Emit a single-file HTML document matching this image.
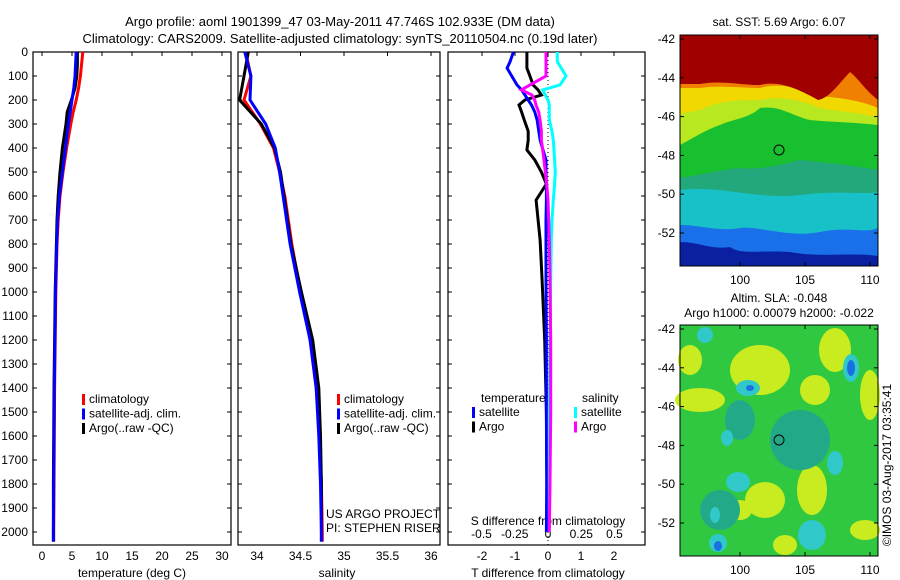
<!DOCTYPE html>
<html><head><meta charset="utf-8"><style>
body{margin:0;background:#fff;}
svg{display:block;font-family:"Liberation Sans",sans-serif;}
</style></head><body>
<svg id="fig" width="900" height="580" viewBox="0 0 900 580">
<text x="340" y="26" font-size="13" text-anchor="middle">Argo profile: aoml 1901399_47 03-May-2011 47.746S 102.933E (DM data)</text>
<text x="340" y="43" font-size="13" text-anchor="middle">Climatology: CARS2009. Satellite-adjusted climatology: synTS_20110504.nc (0.19d later)</text>
<g id="g1"></g>
<g id="g2"></g>
<g id="g3"></g>
<g id="m1"></g>
<g id="m2"></g>
<text transform="translate(891,465) rotate(-90)" font-size="12" text-anchor="middle">©IMOS 03-Aug-2017 03:35:41</text>
</svg>
<script>
// depth ticks
const depthTicks=[0,100,200,300,400,500,600,700,800,900,1000,1100,1200,1300,1400,1500,1600,1700,1800,1900,2000];
// temperature profiles
const tDepth=[0,50,100,150,200,250,300,400,500,600,700,800,900,1000,1200,1400,1600,1800,2000,2040];
const tClim=[6.8,6.6,6.4,6.1,5.7,5.2,4.8,4.1,3.5,3.0,2.7,2.5,2.4,2.3,2.2,2.1,2.05,2.0,1.95,1.95];
const tSat=[5.7,5.6,5.5,5.3,5.0,4.7,4.4,3.9,3.4,2.9,2.6,2.45,2.35,2.25,2.15,2.05,2.0,1.95,1.9,1.9];
const tArgo=[5.9,5.9,5.8,5.5,4.9,4.2,4.0,3.4,3.0,2.7,2.5,2.4,2.3,2.2,2.1,2.0,1.95,1.9,1.9,1.9];
// salinity profiles
const sDepth=[0,100,200,300,400,500,600,800,1000,1200,1400,1600,1800,2000,2040];
const sClim=[33.87,33.93,33.85,34.04,34.19,34.26,34.32,34.40,34.50,34.61,34.68,34.72,34.74,34.75,34.75];
const sSat=[33.86,33.93,33.92,34.10,34.21,34.26,34.30,34.38,34.49,34.61,34.68,34.71,34.73,34.74,34.74];
const sArgo=[33.90,33.85,33.80,34.05,34.20,34.27,34.31,34.39,34.51,34.64,34.71,34.73,34.74,34.74,34.74];
// difference profiles
const dDepth=[0,40,67,100,137,158,179,200,221,250,283,330,367,408,450,500,550,617,700,783,950,1200,1500,1800,2000];
const dTSat=[-1.05,-1.15,-1.24,-1.1,-0.94,-0.8,-0.7,-0.6,-0.5,-0.4,-0.33,-0.28,-0.24,-0.15,-0.06,-0.06,-0.05,-0.05,-0.06,-0.06,-0.06,-0.05,-0.05,-0.04,-0.05];
const dTArgo=[-0.64,-0.64,-0.64,-0.55,-0.45,-0.3,-0.2,-0.7,-0.88,-0.8,-0.72,-0.6,-0.6,-0.64,-0.4,-0.2,-0.05,-0.36,-0.3,-0.24,-0.18,-0.1,-0.05,-0.03,-0.02];
const dSSat=[0.07,0.07,0.1,0.135,0.09,-0.04,-0.02,0,0.01,0.01,0.01,0.03,0.04,0.045,0.05,0.055,0.05,0.04,0.03,0.025,0.02,0.015,0.01,0.01,0.01];
const dSArgo=[-0.015,-0.015,-0.015,-0.015,-0.135,-0.2,-0.12,-0.1,-0.09,-0.07,-0.06,-0.05,-0.05,-0.04,-0.03,-0.02,-0.01,0,0.005,0.01,0.015,0.02,0.02,0.015,0.01];
const tTicks=[0,5,10,15,20,25,30];
const sTicks=["34","34.5","35","35.5","36"];
const dtTicks=[-2,-1,0,1,2];
const dsTicks=["-0.5","-0.25","0","0.25","0.5"];
const latTicks=[-42,-44,-46,-48,-50,-52];
const lonTicks=[100,105,110];

const NS='http://www.w3.org/2000/svg';
function mk(p,tag,at,txt){const e=document.createElementNS(NS,tag);for(const k in at)e.setAttribute(k,at[k]);if(txt!==undefined)e.textContent=txt;p.appendChild(e);return e;}
const Y=d=>52+d*0.24;
const TOP=52,BOT=545;
function frame(g,x0,x1){
  const r=mk(g,'rect',{x:x0,y:TOP,width:x1-x0,height:BOT-TOP,fill:'none',stroke:'#000','stroke-width':1.2});
  
  
  depthTicks.forEach(d=>{
    const l=mk(g,'line',{x1:x0,x2:x0+4,y1:Y(d),y2:Y(d),stroke:'#000'});
    
    
    mk(g,'line',{x1:x1-4,x2:x1,y1:Y(d),y2:Y(d),stroke:'#000'});
  });
}
function line(g,xs,ys,fx,col,name){
  const pts=xs.map((v,i)=>fx(v).toFixed(1)+','+Y(ys[i]).toFixed(1)).join(' ');
  const p=mk(g,'polyline',{points:pts,fill:'none',stroke:col,'stroke-width':3});
  
  
}
function legend(g,x,y,items){
  items.forEach((it,i)=>{
    const r=mk(g,'rect',{x:x,y:y+i*14.5-9,width:3,height:11,fill:it[1]});
    
    
    const t=mk(g,'text',{x:x+7,y:y+i*14.5,'font-size':12},it[0]);
    
    
  });
}
// Panel 1
const g1=document.getElementById('g1');
const fT=v=>42+v*6;
frame(g1,33,231);
depthTicks.forEach(d=>{const t=mk(g1,'text',{x:28,y:Y(d)+4,'font-size':12,'text-anchor':'end'},String(d));
});
tTicks.forEach(v=>{mk(g1,'line',{x1:fT(v),x2:fT(v),y1:TOP,y2:TOP+4,stroke:'#000'});
const t=mk(g1,'text',{x:fT(v),y:560,'font-size':12,'text-anchor':'middle'},String(v));
});
const x1t=mk(g1,'text',{x:132,y:577,'font-size':12,'text-anchor':'middle'},'temperature (deg C)');

line(g1,tClim,tDepth,fT,'#f00','climatology-line');
line(g1,tArgo,tDepth,fT,'#000','argo-line');
line(g1,tSat,tDepth,fT,'#00f','satellite-line');
legend(g1,82,403,[['climatology','#f00'],['satellite-adj. clim.','#00f'],['Argo(..raw -QC)','#000']]);
// Panel 2
const g2=document.getElementById('g2');
const fS=v=>257+(v-34)*87;
frame(g2,238,440);
sTicks.forEach(s=>{const v=parseFloat(s);mk(g2,'line',{x1:fS(v),x2:fS(v),y1:TOP,y2:TOP+4,stroke:'#000'});
const t=mk(g2,'text',{x:fS(v),y:560,'font-size':12,'text-anchor':'middle'},s);
});
const x2t=mk(g2,'text',{x:337,y:577,'font-size':12,'text-anchor':'middle'},'salinity');

line(g2,sClim,sDepth,fS,'#f00','climatology-line');
line(g2,sArgo,sDepth,fS,'#000','argo-line');
line(g2,sSat,sDepth,fS,'#00f','satellite-line');
legend(g2,337,403,[['climatology','#f00'],['satellite-adj. clim.','#00f'],['Argo(..raw -QC)','#000']]);
const p1=mk(g2,'text',{x:326,y:518,'font-size':12},'US ARGO PROJECT');

const p2=mk(g2,'text',{x:326,y:532,'font-size':12},'PI: STEPHEN RISER');

// Panel 3
const g3=document.getElementById('g3');
const fDT=v=>548+v*33, fDS=v=>548+v*133;
frame(g3,448,645);
mk(g3,'line',{x1:548,x2:548,y1:TOP,y2:BOT,stroke:'#000','stroke-dasharray':'1,3'});
dtTicks.forEach(v=>{mk(g3,'line',{x1:fDT(v),x2:fDT(v),y1:TOP,y2:TOP+4,stroke:'#000'});
const t=mk(g3,'text',{x:fDT(v),y:560,'font-size':12,'text-anchor':'middle'},String(v));
});
dsTicks.forEach(s=>{const t=mk(g3,'text',{x:fDS(parseFloat(s)),y:538,'font-size':12,'text-anchor':'middle'},s);
});
const st=mk(g3,'text',{x:548,y:525,'font-size':12,'text-anchor':'middle'},'S difference from climatology');

const tt=mk(g3,'text',{x:548,y:577,'font-size':12,'text-anchor':'middle'},'T difference from climatology');

line(g3,dTArgo,dDepth,fDT,'#000','t-argo-diff-line');
line(g3,dTSat,dDepth,fDT,'#00f','t-satellite-diff-line');
line(g3,dSSat,dDepth,fDS,'#0ff','s-satellite-diff-line');
line(g3,dSArgo,dDepth,fDS,'#f0f','s-argo-diff-line');
const lt=mk(g3,'text',{x:481,y:402,'font-size':12},'temperature');

const ls=mk(g3,'text',{x:582,y:402,'font-size':12},'salinity');

legend(g3,472,416,[['satellite','#00f'],['Argo','#000']]);
legend(g3,574,416,[['satellite','#0ff'],['Argo','#f0f']]);
// Maps
function mapAxes(g,y0,y1,latY,lonX){
  mk(g,'rect',{x:680,y:y0,width:198,height:y1-y0,fill:'none',stroke:'#000'});
  latTicks.forEach((v,i)=>{const y=latY(v);
    mk(g,'line',{x1:680,x2:684,y1:y,y2:y,stroke:'#000'});mk(g,'line',{x1:874,x2:878,y1:y,y2:y,stroke:'#000'});
    const t=mk(g,'text',{x:675,y:y+4,'font-size':12,'text-anchor':'end'},String(v));
    });
  lonTicks.forEach(v=>{const x=lonX(v);
    mk(g,'line',{x1:x,x2:x,y1:y0,y2:y0+4,stroke:'#000'});mk(g,'line',{x1:x,x2:x,y1:y1-4,y2:y1,stroke:'#000'});
    const t=mk(g,'text',{x:x,y:y1+18,'font-size':12,'text-anchor':'middle'},String(v));
    });
}
const m1=document.getElementById('m1');
const lon1=v=>740+(v-100)*13;
m1.innerHTML=`
<rect x="680" y="35" width="198" height="231" fill="#22a87a"/>
<path d="M680,190 C720,185 760,200 800,195 C840,190 860,195 878,192 V266 H680Z" fill="#18c0c8"/>
<path d="M680,225 C700,225 720,232 740,228 C760,226 790,238 820,232 C850,226 865,234 878,228 V266 H680Z" fill="#1a70e8"/>
<path d="M680,242 C700,242 710,250 730,247 C740,255 760,250 790,252 C820,258 850,252 878,256 V266 H680Z" fill="#0a20a0"/>
<path d="M680,35 H878 V170 C850,165 820,162 800,160 C780,165 760,170 740,168 C720,170 700,175 680,178Z" fill="#18c030"/>
<path d="M680,35 H878 V125 C850,122 830,122 810,120 C790,115 780,105 760,108 C750,118 730,120 720,125 C705,130 690,140 680,145Z" fill="#b8e820"/>
<path d="M680,35 H878 V118 C860,112 840,112 820,108 C800,100 780,95 760,100 C740,100 720,100 700,110 C690,112 685,112 680,115Z" fill="#f0d800"/>
<path d="M680,35 H878 V108 C860,100 840,98 820,96 C800,88 780,82 760,88 C740,88 720,85 700,88 C690,88 685,88 680,88Z" fill="#f08000"/>
<path d="M680,35 H878 V100 C865,90 858,78 850,72 C840,82 830,98 818,100 C800,90 780,80 760,85 C740,85 720,80 700,84 C690,84 685,84 680,84Z" fill="#a00000"/>
<circle cx="779" cy="150" r="5" fill="none" stroke="#000"/>`;
mapAxes(m1,35,266,v=>39+(-42-v)*19.4,lon1);
const mt1=mk(m1,'text',{x:779,y:26,'font-size':12,'text-anchor':'middle'},'sat. SST: 5.69 Argo: 6.07');

const m2=document.getElementById('m2');
m2.innerHTML=`
<rect x="680" y="325" width="198" height="231" fill="#30c840"/>
<g fill="#c8ec20">
<ellipse cx="700" cy="400" rx="25" ry="12"/><ellipse cx="760" cy="370" rx="30" ry="25"/><ellipse cx="815" cy="390" rx="15" ry="15"/>
<ellipse cx="835" cy="350" rx="16" ry="22"/><ellipse cx="870" cy="395" rx="10" ry="25"/><ellipse cx="765" cy="500" rx="20" ry="18"/>
<ellipse cx="812" cy="490" rx="15" ry="25"/><ellipse cx="740" cy="510" rx="12" ry="10"/><ellipse cx="785" cy="545" rx="12" ry="10"/>
<ellipse cx="865" cy="530" rx="15" ry="10"/><ellipse cx="690" cy="360" rx="12" ry="15"/></g>
<g fill="#22aa88">
<ellipse cx="800" cy="440" rx="30" ry="30"/><ellipse cx="720" cy="510" rx="20" ry="20"/><ellipse cx="740" cy="420" rx="15" ry="20"/></g>
<g fill="#30c8c8">
<ellipse cx="748" cy="388" rx="12" ry="8"/><ellipse cx="851" cy="368" rx="8" ry="14"/><ellipse cx="812" cy="535" rx="14" ry="15"/>
<ellipse cx="738" cy="482" rx="12" ry="10"/><ellipse cx="715" cy="515" rx="5" ry="8"/><ellipse cx="718" cy="543" rx="9" ry="9"/>
<ellipse cx="835" cy="463" rx="8" ry="12"/><ellipse cx="705" cy="335" rx="8" ry="8"/><ellipse cx="727" cy="438" rx="6" ry="8"/></g>
<g fill="#1a70e0"><ellipse cx="851" cy="368" rx="4" ry="8"/><ellipse cx="718" cy="546" rx="4" ry="5"/><ellipse cx="750" cy="388" rx="4" ry="3"/></g>
<circle cx="779" cy="440" r="5" fill="none" stroke="#000"/>`;
mapAxes(m2,325,556,v=>329+(-42-v)*19.4,lon1);
const mt2=mk(m2,'text',{x:779,y:302,'font-size':12,'text-anchor':'middle'},'Altim. SLA: -0.048');

const mt3=mk(m2,'text',{x:779,y:317,'font-size':12,'text-anchor':'middle'},'Argo h1000: 0.00079 h2000: -0.022');

</script>
</body></html>
